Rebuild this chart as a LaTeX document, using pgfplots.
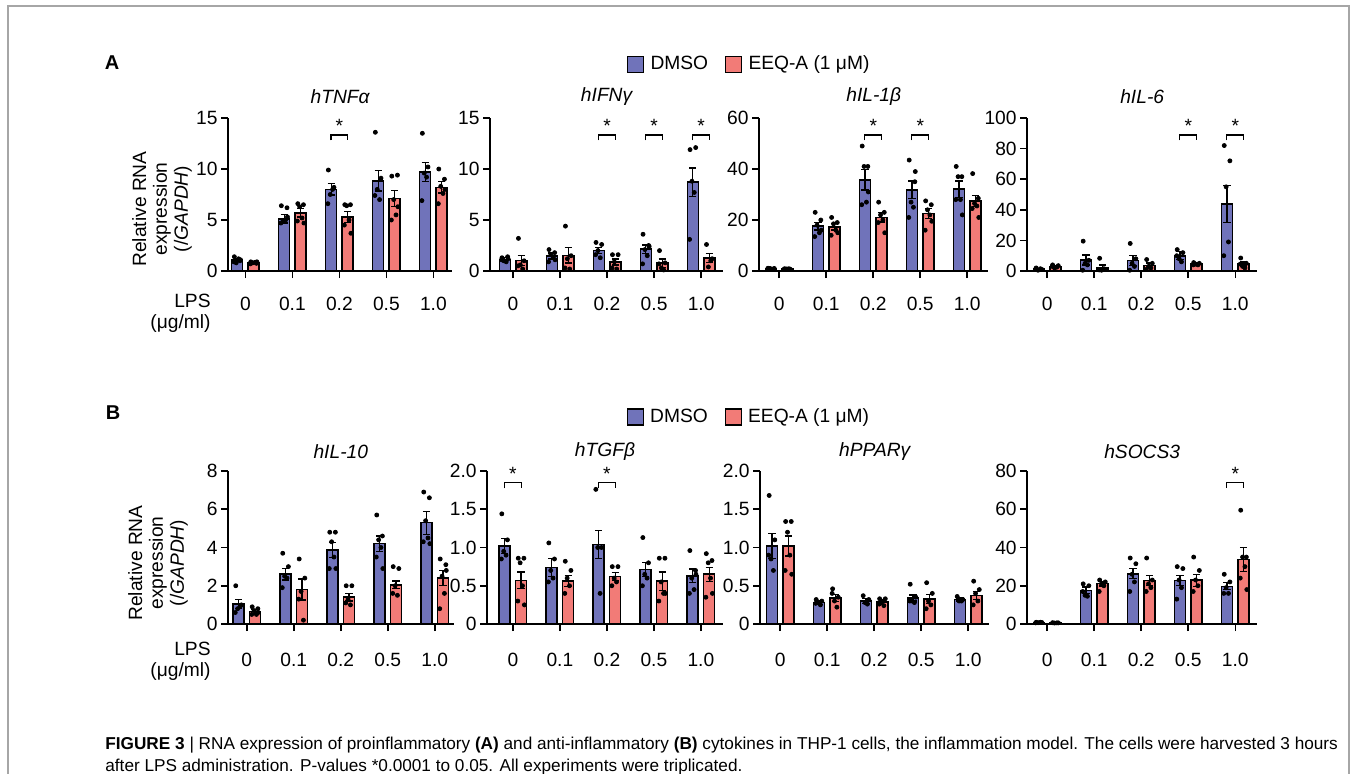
\documentclass[border=0pt]{standalone}
\usepackage{fontspec}
\setmainfont{Liberation Sans}
\usepackage{pgfplots}
\pgfplotsset{compat=1.18}
\definecolor{dmso}{RGB}{112,115,186}
\definecolor{eeq}{RGB}{242,123,119}
\newcommand\tf{\fontsize{9.6}{10.4}\selectfont}
\pgfplotsset{
  panel/.style={
    scale only axis, height=76.5pt,
    axis x line=bottom, axis y line=left,
    axis line style={-, line width=0.8pt},
    every tick/.style={black, line width=0.8pt},
    tick align=outside, major tick length=3.5pt,
    xtick={0,1,2,3,4}, xticklabels={0,0.1,0.2,0.5,1.0},
    ymin=0, clip=false,
    ticklabel style={font=\tf},
    yticklabel style={inner xsep=1.5pt},
    xticklabel shift=6pt,
    /pgf/number format/assume math mode=true,
  },
  bars/.style={ybar, bar width=5.5pt, bar shift=0pt, draw=black, line width=0.8pt,
    error bars/y dir=both, error bars/y explicit,
    error bars/error mark=-,
    error bars/error bar style={line width=0.6pt, black},
    error bars/error mark options={rotate=90, black, line width=0.6pt, mark size=1.8pt},
    legend image code/.code={\draw[##1, line width=0.6pt] (0pt,-4pt) rectangle (8pt,4pt); \path (9.5pt,0pt);}},
  bblue/.style={bars, fill=dmso},
  bred/.style={bars, fill=eeq},
  dots/.style={only marks, mark=*, mark size=1pt, black, forget plot},
}
\newcommand\sig[6]{%
  \draw[line width=0.6pt] (axis cs:#1,#5) -- (axis cs:#1,#4) -- (axis cs:#2,#4) -- (axis cs:#2,#5);
  \node[font=\tf, anchor=base, inner sep=0pt] at (axis cs:#3,#6) {*};}
\begin{document}
\begin{tikzpicture}[x=0.5pt,y=0.5pt]
\useasboundingbox (0,0) rectangle (1356,773);
\draw[black!35, line width=1pt] (8,-20) -- (8,767) -- (1349,767) -- (1349,-20);
\node[font=\fontsize{10}{12}\selectfont\bfseries] at (112,710.5) {A};
\node[font=\fontsize{10}{12}\selectfont\bfseries] at (113,360) {B};
\node[rotate=90, align=center, font=\tf] at (162,564) {Relative RNA\\expression\\(/\textit{GAPDH})};
\node[rotate=90, align=center, font=\tf] at (158,210) {Relative RNA\\expression\\(/\textit{GAPDH})};
\node[align=right, anchor=east, font=\tf, inner sep=0pt] at (211,460) {LPS\\(μg/ml)};
\node[align=right, anchor=east, font=\tf, inner sep=0pt] at (211,112) {LPS\\(μg/ml)};
\node[anchor=north west, align=left, font=\fontsize{8.6}{11}\selectfont, inner sep=0pt] at (105,36) {\textbf{FIGURE 3} | RNA expression of proinflammatory \textbf{(A)} and anti-inflammatory \textbf{(B)} cytokines in THP-1 cells, the inflammation model. The cells were harvested 3 hours\\after LPS administration. P-values *0.0001 to 0.05. All experiments were triplicated.};

% ---------------- A1 hTNFa
\begin{axis}[panel, at={(114pt,251pt)}, anchor=south west, width=112.1pt, xmin=-0.37, xmax=4.40,
  ymax=15, ytick={0,5,10,15}, yticklabels={0,5,10,15}]
\addplot[bblue] coordinates {(-0.175,1.05) +- (0,0.15) (0.825,5.1) +- (0,0.4) (1.825,8.0) +- (0,0.55) (2.825,8.85) +- (0,1.0) (3.825,9.7) +- (0,0.9)};
\addplot[bred] coordinates {(0.175,0.8) +- (0,0.08) (1.175,5.7) +- (0,0.4) (2.175,5.3) +- (0,0.55) (3.175,7.1) +- (0,0.8) (4.175,8.2) +- (0,0.55)};
\addplot[dots] coordinates {(-0.235,1.4)(-0.115,1.0)(-0.195,0.8)(-0.145,1.2)(-0.245,0.9)(-0.105,1.1)
(0.765,6.4)(0.885,6.2)(0.805,4.9)(0.855,5.0)(0.755,4.7)(0.895,5.3)
(1.765,9.9)(1.885,8.2)(1.805,7.5)(1.855,8.0)(1.755,6.6)
(2.765,13.6)(2.885,9.1)(2.805,8.0)(2.855,7.0)(2.755,7.4)
(3.765,13.5)(3.885,10.2)(3.805,9.6)(3.855,9.2)(3.755,6.9)};
\addplot[dots] coordinates {(0.115,0.9)(0.235,0.75)(0.155,0.8)(0.205,0.85)(0.105,0.7)(0.245,0.9)
(1.115,6.6)(1.235,6.5)(1.155,6.3)(1.205,5.2)(1.105,4.9)(1.245,4.7)
(2.115,6.5)(2.235,6.5)(2.155,6.4)(2.205,5.0)(2.105,4.5)(2.245,3.7)
(3.115,9.3)(3.235,9.4)(3.155,7.0)(3.205,5.5)(3.105,5.0)(3.245,6.3)
(4.115,10.0)(4.235,9.0)(4.155,8.3)(4.205,7.6)(4.105,6.6)(4.245,8.0)};
\sig{1.82}{2.18}{2}{13.33}{12.8}{13.56}
\node[font=\tf\itshape] at (rel axis cs:0.5,1.139) {hTNFα};
\end{axis}

% ---------------- A2 hIFNg
\begin{axis}[panel, at={(245pt,251pt)}, anchor=south west, width=116.6pt, xmin=-0.49, xmax=4.47,
  ymax=15, ytick={0,5,10,15}, yticklabels={0,5,10,15},
  legend style={draw=none, fill=none, font=\tf, inner sep=0pt, at={(1.114,1.35)}, anchor=center,
    nodes={inner sep=1.5pt}, /tikz/every even column/.append style={column sep=7pt}},
  legend columns=2, legend cell align=left]
\addplot[bblue] coordinates {(-0.175,1.14) +- (0,0.15) (0.825,1.47) +- (0,0.3) (1.825,2.0) +- (0,0.3) (2.825,2.15) +- (0,0.4) (3.825,8.7) +- (0,1.4)};
\addlegendentry{DMSO}
\addplot[bred] coordinates {(0.175,1.04) +- (0,0.5) (1.175,1.53) +- (0,0.75) (2.175,0.88) +- (0,0.3) (3.175,0.78) +- (0,0.4) (4.175,1.3) +- (0,0.45)};
\addlegendentry{EEQ-A (1 μM)}
\addplot[dots] coordinates {(-0.235,1.3)(-0.115,1.4)(-0.195,1.0)(-0.145,0.9)(-0.245,1.1)(-0.105,1.2)
(0.765,2.1)(0.885,1.8)(0.805,1.6)(0.855,1.3)(0.755,0.9)(0.895,1.1)
(1.765,2.8)(1.885,2.6)(1.805,2.0)(1.855,1.3)(1.755,1.6)
(2.765,3.6)(2.885,2.5)(2.805,2.1)(2.855,1.5)(2.755,0.7)(2.895,2.4)
(3.765,11.9)(3.885,12.1)(3.805,8.8)(3.855,7.7)(3.755,3.1)};
\addplot[dots] coordinates {(0.115,3.2)(0.235,1.0)(0.155,0.6)(0.205,0.2)(0.105,0.5)
(1.115,4.4)(1.235,1.5)(1.155,1.2)(1.205,0.2)(1.105,0.3)
(2.115,1.6)(2.235,1.6)(2.155,0.9)(2.205,0.2)(2.105,0.3)
(3.115,2.0)(3.235,0.8)(3.155,0.3)(3.205,0.1)(3.105,0.7)
(4.115,2.6)(4.235,1.2)(4.155,0.4)(4.205,1.0)};
\sig{1.82}{2.18}{2}{13.33}{12.8}{13.56}
\sig{2.82}{3.18}{3}{13.33}{12.8}{13.56}
\sig{3.82}{4.18}{4}{13.33}{12.8}{13.56}
\node[font=\tf\itshape] at (rel axis cs:0.5,1.139) {hIFNγ};
\end{axis}

% ---------------- A3 hIL-1b
\begin{axis}[panel, at={(379.5pt,251pt)}, anchor=south west, width=114.7pt, xmin=-0.43, xmax=4.45,
  ymax=60, ytick={0,20,40,60}, yticklabels={0,20,40,60}]
\addplot[bblue] coordinates {(-0.175,0.9) +- (0,0.1) (0.825,17.6) +- (0,1.5) (1.825,35.8) +- (0,4) (2.825,31.8) +- (0,3.5) (3.825,32.1) +- (0,3.2)};
\addplot[bred] coordinates {(0.175,0.8) +- (0,0.1) (1.175,17.3) +- (0,1.2) (2.175,21) +- (0,1.8) (3.175,22.5) +- (0,2) (4.175,27.4) +- (0,2.2)};
\addplot[dots] coordinates {(-0.235,1.1)(-0.115,0.8)(-0.195,1.0)(-0.145,0.7)(-0.245,0.9)(-0.105,1.0)
(0.765,23)(0.885,20)(0.805,18)(0.855,15)(0.755,13.5)(0.895,16)
(1.765,49)(1.885,41)(1.805,41)(1.855,27)(1.755,26)(1.895,31)
(2.765,43.5)(2.885,35)(2.805,27)(2.855,25)(2.755,21)(2.895,39)
(3.765,41)(3.885,37)(3.805,37)(3.855,28)(3.755,28)(3.895,22)};
\addplot[dots] coordinates {(0.115,0.9)(0.235,0.7)(0.155,0.8)(0.205,0.9)(0.105,0.7)
(1.115,21)(1.235,19)(1.155,18.5)(1.205,16)(1.105,14)(1.245,15)
(2.115,27)(2.235,23)(2.155,22)(2.205,20)(2.105,19)(2.245,15)
(3.115,27.5)(3.235,26)(3.155,24)(3.205,22)(3.105,16)(3.245,19.5)
(4.115,38.2)(4.235,28.5)(4.155,26.5)(4.205,25.5)(4.105,24.5)(4.245,21)};
\sig{1.82}{2.18}{2}{53.3}{51.2}{54.2}
\sig{2.82}{3.18}{3}{53.3}{51.2}{54.2}
\node[font=\tf\itshape] at (rel axis cs:0.5,1.139) {hIL-1β};
\end{axis}

% ---------------- A4 hIL-6
\begin{axis}[panel, at={(513.5pt,251pt)}, anchor=south west, width=115.2pt, xmin=-0.43, xmax=4.47,
  ymax=100, ytick={0,20,40,60,80,100}, yticklabels={0,20,40,60,80,100}]
\addplot[bblue] coordinates {(-0.175,1.3) +- (0,0.3) (0.825,7.2) +- (0,3.3) (1.825,6.8) +- (0,3.2) (2.825,10) +- (0,2.7) (3.825,43.9) +- (0,12.2)};
\addplot[bred] coordinates {(0.175,3.0) +- (0,0.5) (1.175,2.4) +- (0,1.5) (2.175,3.7) +- (0,1.5) (3.175,4.6) +- (0,1.0) (4.175,4.6) +- (0,1.3)};
\addplot[dots] coordinates {(-0.235,2.0)(-0.115,1.0)(-0.195,0.5)(-0.145,1.5)(-0.245,1.2)
(0.765,19.5)(0.885,7)(0.805,5)(0.855,4)(0.755,0.5)
(1.765,18)(1.885,8)(1.805,5)(1.855,3)(1.755,0.5)
(2.765,14)(2.885,12)(2.805,8)(2.855,6)(2.755,10)
(3.765,82)(3.885,72)(3.805,55)(3.855,19)(3.755,10)};
\addplot[dots] coordinates {(0.115,4)(0.235,3.5)(0.155,2)(0.205,2.5)(0.105,3)
(1.115,8.3)(1.235,1)(1.155,0.5)(1.205,1.5)(1.105,0.7)
(2.115,7.5)(2.235,5)(2.155,3)(2.205,2)(2.105,1)
(3.115,5.5)(3.235,5)(3.155,4.5)(3.205,4)(3.105,4)
(4.115,8.5)(4.235,5)(4.155,3)(4.205,2)(4.105,4.5)};
\sig{2.82}{3.18}{3}{88.9}{85.3}{90.4}
\sig{3.82}{4.18}{4}{88.9}{85.3}{90.4}
\node[font=\tf\itshape] at (rel axis cs:0.5,1.139) {hIL-6};
\end{axis}

% ---------------- B1 hIL-10
\begin{axis}[panel, at={(114pt,74.5pt)}, anchor=south west, width=112.8pt, xmin=-0.40, xmax=4.40,
  ymax=8, ytick={0,2,4,6,8}, yticklabels={0,2,4,6,8}, xticklabel shift=7.7pt]
\addplot[bblue] coordinates {(-0.175,1.05) +- (0,0.25) (0.825,2.6) +- (0,0.3) (1.825,3.87) +- (0,0.4) (2.825,4.2) +- (0,0.4) (3.825,5.3) +- (0,0.6)};
\addplot[bred] coordinates {(0.175,0.65) +- (0,0.1) (1.175,1.8) +- (0,0.55) (2.175,1.4) +- (0,0.2) (3.175,2.05) +- (0,0.2) (4.175,2.4) +- (0,0.4)};
\addplot[dots] coordinates {(-0.235,2.0)(-0.115,1.0)(-0.195,0.8)(-0.145,0.9)(-0.245,0.6)
(0.765,3.7)(0.885,3.0)(0.805,2.5)(0.855,2.4)(0.755,1.9)
(1.765,4.8)(1.885,4.8)(1.805,4.3)(1.855,3.5)(1.755,2.9)(1.895,2.9)
(2.765,5.7)(2.885,4.6)(2.805,4.4)(2.855,4.0)(2.755,3.5)(2.895,2.9)
(3.765,6.9)(3.885,6.6)(3.805,5.4)(3.855,4.5)(3.755,4.3)(3.895,4.2)};
\addplot[dots] coordinates {(0.115,0.9)(0.235,0.8)(0.155,0.7)(0.205,0.5)(0.105,0.5)(0.245,0.6)
(1.115,3.4)(1.235,2.4)(1.155,1.7)(1.205,0.2)(1.105,1.3)
(2.115,2.0)(2.235,2.0)(2.155,1.3)(2.205,1.0)(2.105,1.1)
(3.115,3.0)(3.235,2.9)(3.155,2.0)(3.205,1.5)(3.105,1.6)
(4.115,3.4)(4.235,3.1)(4.155,2.5)(4.205,1.6)(4.105,0.8)(4.245,2.8)};
\node[font=\tf\itshape] at (rel axis cs:0.5,1.126) {hIL-10};
\end{axis}

% ---------------- B2 hTGFb
\begin{axis}[panel, at={(243.5pt,74.5pt)}, anchor=south west, width=118.0pt, xmin=-0.55, xmax=4.47,
  ymax=2, ytick={0,0.5,1,1.5,2}, yticklabels={0,0.5,1.0,1.5,2.0}, xticklabel shift=7.7pt,
  legend style={draw=none, fill=none, font=\tf, inner sep=0pt, at={(1.112,1.353)}, anchor=center,
    nodes={inner sep=1.5pt}, /tikz/every even column/.append style={column sep=7pt}},
  legend columns=2, legend cell align=left]
\addplot[bblue] coordinates {(-0.175,1.02) +- (0,0.1) (0.825,0.74) +- (0,0.12) (1.825,1.04) +- (0,0.18) (2.825,0.71) +- (0,0.09) (3.825,0.63) +- (0,0.09)};
\addlegendentry{DMSO}
\addplot[bred] coordinates {(0.175,0.57) +- (0,0.11) (1.175,0.56) +- (0,0.07) (2.175,0.62) +- (0,0.05) (3.175,0.56) +- (0,0.12) (4.175,0.65) +- (0,0.09)};
\addlegendentry{EEQ-A (1 μM)}
\addplot[dots] coordinates {(-0.235,1.44)(-0.115,1.1)(-0.195,0.95)(-0.145,0.9)(-0.245,0.85)
(0.765,1.06)(0.885,0.85)(0.805,0.7)(0.855,0.6)(0.755,0.55)
(1.765,1.76)(1.885,1.0)(1.805,1.0)(1.855,0.4)
(2.765,1.13)(2.885,0.8)(2.805,0.65)(2.855,0.6)(2.755,0.5)
(3.765,0.96)(3.885,0.7)(3.805,0.6)(3.855,0.45)(3.755,0.4)(3.895,0.65)};
\addplot[dots] coordinates {(0.115,0.86)(0.235,0.86)(0.155,0.8)(0.205,0.5)(0.105,0.3)(0.245,0.25)
(1.115,0.82)(1.235,0.7)(1.155,0.6)(1.205,0.5)(1.105,0.4)
(2.115,0.75)(2.235,0.75)(2.155,0.6)(2.205,0.55)(2.105,0.5)
(3.115,0.86)(3.235,0.86)(3.155,0.55)(3.205,0.4)(3.105,0.3)(3.245,0.4)
(4.115,0.92)(4.235,0.83)(4.155,0.8)(4.205,0.6)(4.105,0.35)(4.245,0.4)};
\sig{-0.18}{0.18}{0}{1.848}{1.774}{1.87}
\sig{1.82}{2.18}{2}{1.848}{1.774}{1.87}
\node[font=\tf\itshape] at (rel axis cs:0.5,1.126) {hTGFβ};
\end{axis}

% ---------------- B3 hPPARg
\begin{axis}[panel, at={(380pt,74.5pt)}, anchor=south west, width=114.7pt, xmin=-0.43, xmax=4.45,
  ymax=2, ytick={0,0.5,1,1.5,2}, yticklabels={0,0.5,1.0,1.5,2.0}, xticklabel shift=7.7pt]
\addplot[bblue] coordinates {(-0.175,1.02) +- (0,0.16) (0.825,0.28) +- (0,0.02) (1.825,0.3) +- (0,0.03) (2.825,0.34) +- (0,0.04) (3.825,0.32) +- (0,0.02)};
\addplot[bred] coordinates {(0.175,1.02) +- (0,0.13) (1.175,0.34) +- (0,0.05) (2.175,0.285) +- (0,0.03) (3.175,0.33) +- (0,0.06) (4.175,0.37) +- (0,0.05)};
\addplot[dots] coordinates {(-0.235,1.68)(-0.115,1.1)(-0.195,0.85)(-0.145,0.7)(-0.245,0.9)
(0.765,0.32)(0.885,0.3)(0.805,0.28)(0.855,0.25)(0.755,0.27)
(1.765,0.37)(1.885,0.32)(1.805,0.28)(1.855,0.26)
(2.765,0.52)(2.885,0.35)(2.805,0.3)(2.855,0.28)(2.755,0.3)
(3.765,0.36)(3.885,0.32)(3.805,0.3)(3.855,0.3)};
\addplot[dots] coordinates {(0.115,1.34)(0.235,1.34)(0.155,1.2)(0.205,0.9)(0.105,0.7)(0.245,0.65)
(1.115,0.46)(1.235,0.35)(1.155,0.3)(1.205,0.22)(1.105,0.4)
(2.115,0.33)(2.235,0.33)(2.155,0.28)(2.205,0.24)(2.105,0.26)
(3.115,0.54)(3.235,0.4)(3.155,0.3)(3.205,0.25)(3.105,0.2)
(4.115,0.56)(4.235,0.45)(4.155,0.4)(4.205,0.3)(4.105,0.25)};
\node[font=\tf\itshape] at (rel axis cs:0.5,1.126) {hPPARγ};
\end{axis}

% ---------------- B4 hSOCS3
\begin{axis}[panel, at={(513.5pt,74.5pt)}, anchor=south west, width=115.2pt, xmin=-0.43, xmax=4.47,
  ymax=80, ytick={0,20,40,60,80}, yticklabels={0,20,40,60,80}, xticklabel shift=7.7pt]
\addplot[bblue] coordinates {(-0.175,0.8) +- (0,0.1) (0.825,17.6) +- (0,1.8) (1.825,26.3) +- (0,2.7) (2.825,22.7) +- (0,2.7) (3.825,19.7) +- (0,1.8)};
\addplot[bred] coordinates {(0.175,0.6) +- (0,0.1) (1.175,21.1) +- (0,1.2) (2.175,22.7) +- (0,2.7) (3.175,22.9) +- (0,3.1) (4.175,33.8) +- (0,6.2)};
\addplot[dots] coordinates {(-0.235,0.9)(-0.115,0.8)(-0.195,0.7)(-0.145,0.9)(-0.245,0.6)
(0.765,21)(0.885,20)(0.805,15)(0.855,14.5)(0.755,17)
(1.765,34.5)(1.885,31.5)(1.805,26)(1.855,22)(1.755,17)
(2.765,30)(2.885,29)(2.805,23)(2.855,19)(2.755,13)
(3.765,26)(3.885,22)(3.805,19)(3.855,16)(3.755,16)};
\addplot[dots] coordinates {(0.115,0.7)(0.235,0.6)(0.155,0.5)(0.205,0.6)
(1.115,23)(1.235,22)(1.155,21)(1.205,20)(1.105,17)
(2.115,34.5)(2.235,23)(2.155,21)(2.205,19)(2.105,17)
(3.115,35)(3.235,28)(3.155,23)(3.205,20)(3.105,17)
(4.115,59.5)(4.235,35)(4.155,35)(4.205,30)(4.105,24)(4.245,18)};
\sig{3.82}{4.18}{4}{73.9}{71.0}{74.8}
\node[font=\tf\itshape] at (rel axis cs:0.5,1.126) {hSOCS3};
\end{axis}
\end{tikzpicture}
\end{document}
